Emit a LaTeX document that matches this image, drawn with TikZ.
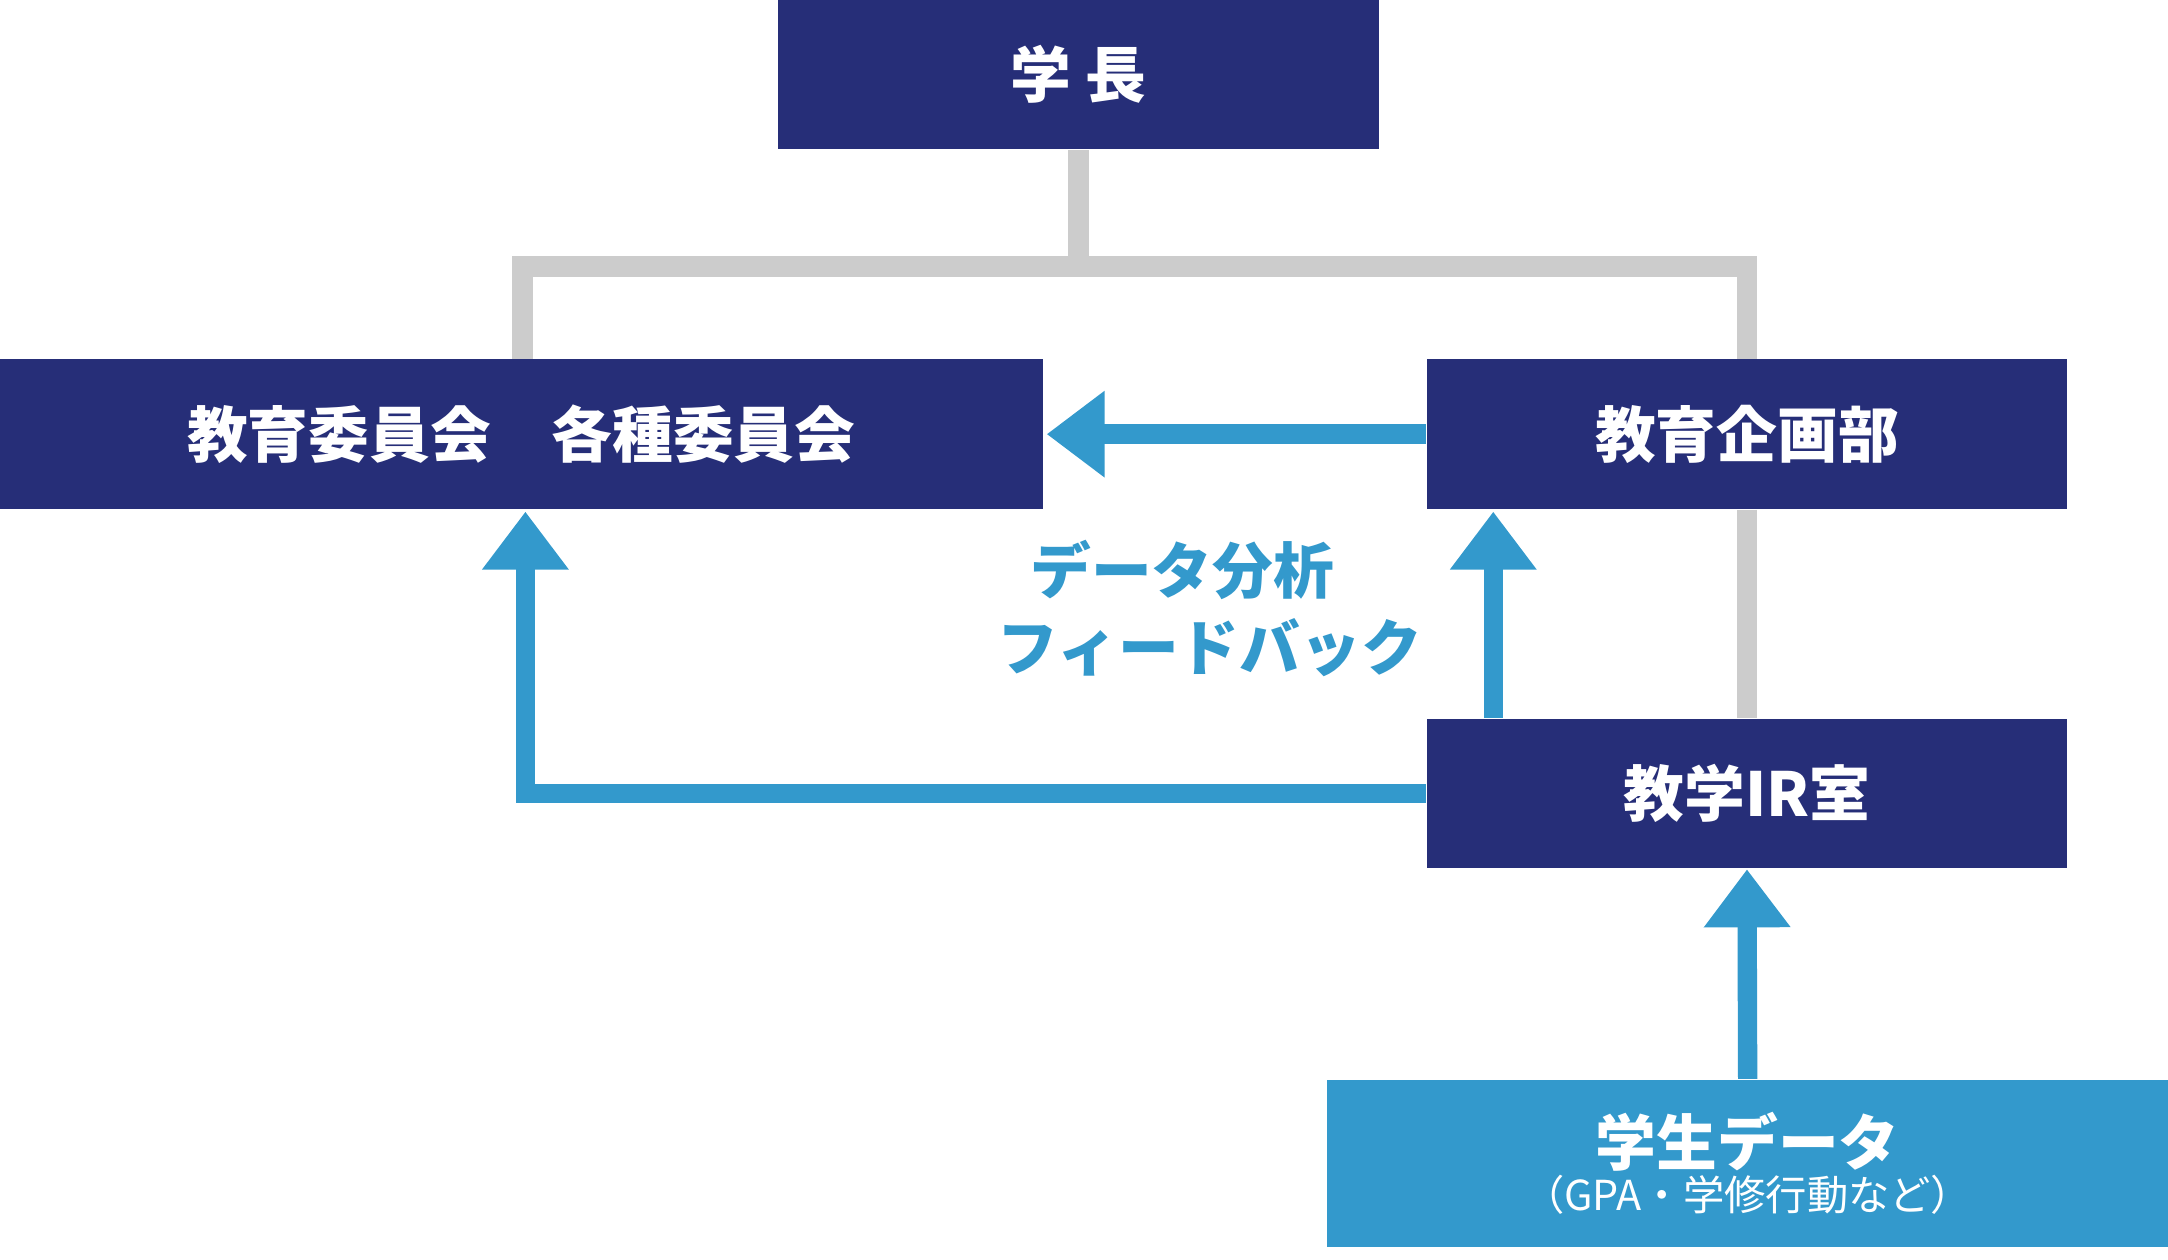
\documentclass[tikz,border=0pt]{standalone}
\usepackage{fontspec}
\setmainfont{Noto Sans CJK JP}
\usetikzlibrary{calc, positioning, arrows.meta}
\definecolor{navy}{HTML}{262E78}
\definecolor{flow}{HTML}{3399CC}
\definecolor{rule}{HTML}{CCCCCC}
\begin{document}
\begin{tikzpicture}
[
    x = 0.1mm, y = -0.1mm,
    BoxStyle/.style = {fill = navy, text = white, inner sep = 0pt,
                       font = \fontsize{12.5}{15}\selectfont\bfseries},
    LineStyle/.style = {draw = rule, line width = 1.5mm},
    FlowStyle/.style = {draw = flow, line width = 1.4mm,
                        -{Triangle[length=4.2mm, width=6mm]}}
  ]
  \useasboundingbox (0,0) rectangle (1568,911);

  \node[BoxStyle, minimum width = 43.4mm, minimum height = 10.8mm] (pres) at (780,54) {学\ 長};
  \node[BoxStyle, minimum width = 75.4mm, minimum height = 10.8mm] (comm) at (377,314) {教育委員会\quad 各種委員会};
  \node[BoxStyle, minimum width = 46.3mm, minimum height = 10.8mm] (plan) at (1263.5,314) {教育企画部};
  \node[BoxStyle, minimum width = 46.3mm, minimum height = 10.8mm] (ir) at (1263.5,574) {教学IR室};
  \node[fill = flow, text = white, minimum width = 60.8mm, minimum height = 12.1mm,
        inner sep = 0pt, align = center] (data) at (1264,841.5)
        {{\fontsize{12.5}{15}\selectfont\bfseries 学生データ}\\[-1mm]
         {\fontsize{8.5}{11}\selectfont（GPA・学修行動など）}};

  % organisation lines
  \coordinate (top) at (780,193);
  \draw[LineStyle] (pres.south) -- (top);
  \draw[LineStyle] (comm.north -| 378,0) |- (top) -| (plan.north);
  \draw[LineStyle] (plan.south) -- (ir.north);

  % data flow
  \draw[FlowStyle] (plan.west) -- (757,314);
  \draw[FlowStyle] (ir.north -| 1080,0) -- (1080,370);
  \draw[FlowStyle] (ir.west) -| (380,370);
  \draw[FlowStyle] (data.north) -- (ir.south);

  \node[text = flow, align = center, font = \fontsize{12.5}{16}\selectfont\bfseries] (fb) at (875,440)
    {\hspace*{-4mm}データ分析\\フィードバック};
\end{tikzpicture}
\end{document}
